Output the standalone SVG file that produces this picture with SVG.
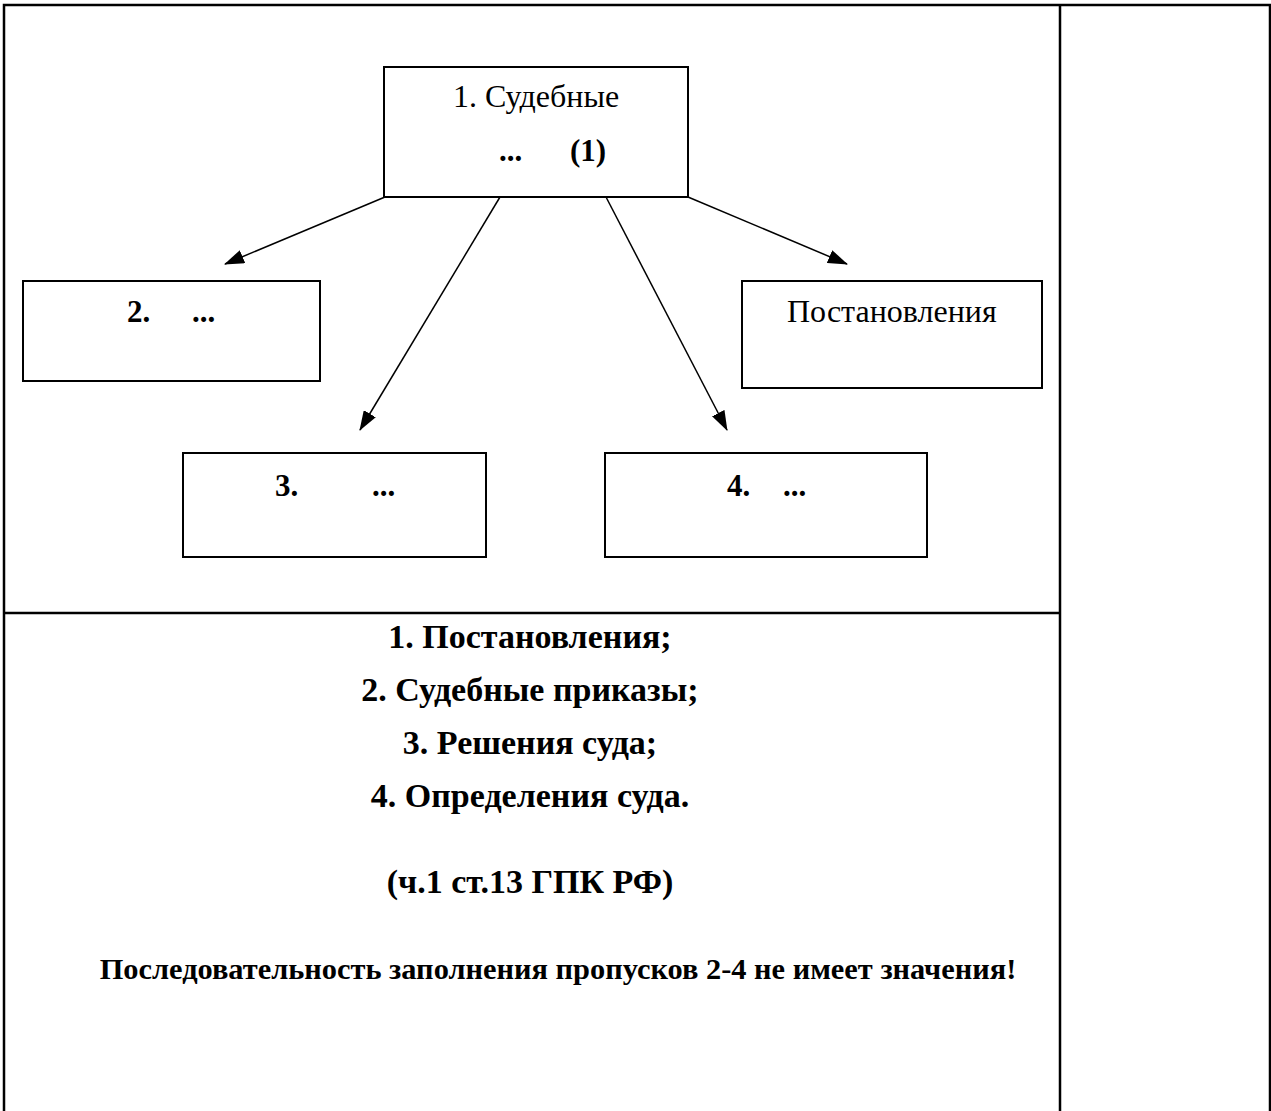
<svg xmlns="http://www.w3.org/2000/svg" width="1271" height="1111" viewBox="0 0 1271 1111">
<style>
.tbl{stroke:#000;stroke-width:2.5;fill:none}
.box{stroke:#000;stroke-width:2;fill:#fff}
.con{stroke:#000;stroke-width:1.5;fill:none}
text{font-family:"Liberation Serif","Times New Roman",serif;font-size:32px;fill:#000}
.b{font-weight:bold;font-size:31px}
.l{font-weight:bold;font-size:34px}
.c{text-anchor:middle}
</style>
<defs>
<marker id="ah" markerUnits="userSpaceOnUse" markerWidth="20" markerHeight="14" viewBox="0 0 20 14" refX="19" refY="7" orient="auto">
<path d="M0,0 L20,7 L0,14 Z" fill="#000"/>
</marker>
</defs>
<g id="table">
<rect class="tbl" x="4" y="5" width="1266" height="1110"/>
<line class="tbl" x1="1060" y1="5" x2="1060" y2="1111"/>
<line class="tbl" x1="4" y1="613" x2="1060" y2="613"/>
</g>
<g id="connectors">
<line class="con" x1="385" y1="197" x2="225" y2="264" marker-end="url(#ah)"/>
<line class="con" x1="500" y1="197" x2="360" y2="430" marker-end="url(#ah)"/>
<line class="con" x1="606" y1="197" x2="727" y2="430" marker-end="url(#ah)"/>
<line class="con" x1="688" y1="197" x2="847" y2="264" marker-end="url(#ah)"/>
</g>
<g id="node1">
<rect class="box" x="384" y="67" width="304" height="130"/>
<text x="453" y="107">1. Судебные</text>
<text class="b" x="499" y="161">...</text>
<text class="b" x="570" y="161">(1)</text>
</g>
<g id="node2">
<rect class="box" x="23" y="281" width="297" height="100"/>
<text class="b" x="127" y="322">2.</text>
<text class="b" x="192" y="322">...</text>
</g>
<g id="node5">
<rect class="box" x="742" y="281" width="300" height="107"/>
<text x="787" y="322">Постановления</text>
</g>
<g id="node3">
<rect class="box" x="183" y="453" width="303" height="104"/>
<text class="b" x="275" y="496">3.</text>
<text class="b" x="372" y="496">...</text>
</g>
<g id="node4">
<rect class="box" x="605" y="453" width="322" height="104"/>
<text class="b" x="727" y="496">4.</text>
<text class="b" x="783" y="496">...</text>
</g>
<g id="answers">
<text class="l c" x="530" y="648">1. Постановления;</text>
<text class="l c" x="530" y="701">2. Судебные приказы;</text>
<text class="l c" x="530" y="754">3. Решения суда;</text>
<text class="l c" x="530" y="807">4. Определения суда.</text>
<text class="l c" x="530" y="893">(ч.1 ст.13 ГПК РФ)</text>
<text class="b c" x="558" y="979" style="font-size:30.4px">Последовательность заполнения пропусков 2-4 не имеет значения!</text>
</g>
</svg>
